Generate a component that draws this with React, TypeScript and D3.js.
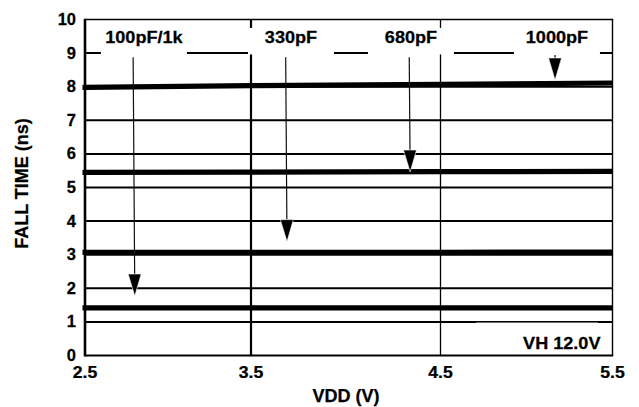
import * as React from 'react'
import * as d3 from 'd3'

const W = 639
const H = 407

// axis ticks
const vddTicks = [2.5, 3.5, 4.5, 5.5]
const fallTicks = [0, 1, 2, 3, 4, 5, 6, 7, 8, 9, 10]

// series (fall time in ns vs VDD)
const vdd = [2.5, 3.5, 4.5, 5.5]
const fall1000pF = [7.98, 8.03, 8.07, 8.11]
const fall680pF = [5.45, 5.46, 5.47, 5.48]
const fall330pF = [3.07, 3.07, 3.07, 3.08]
const fall100pF = [1.42, 1.42, 1.42, 1.42]
const seriesNames = ['1000pF', '680pF', '330pF', '100pF/1k']
const seriesValues = [fall1000pF, fall680pF, fall330pF, fall100pF]

// callouts, in data units (VDD, ns)
const labelVdd = [5.177, 4.344, 3.711, 2.855]
const arrowFromVdd = [5.166, 4.335, 3.683, 2.79]
const arrowToVdd = [5.166, 4.34, 3.69, 2.8]
const arrowFromNs = [8.94, 8.88, 8.88, 8.88]
const arrowToNs = [8.2, 5.46, 3.39, 1.77]

const conditionText = 'VH 12.0V'

const FONT = '"Liberation Sans", Arial, sans-serif'

// the original grid is not evenly spaced, so a piecewise scale
const x = d3
  .scaleLinear()
  .domain(vddTicks)
  .range([85, 251, 440.5, 612.5])
const y = d3.scaleLinear().domain([0, 10]).range([355.5, 19.5])

function Txt(props: {
  x: number
  y: number
  sx?: number
  size?: number
  anchor?: string
  rotate?: number
  children: React.ReactNode
}) {
  const { sx = 1, size = 16, anchor = 'middle', rotate = 0 } = props
  return (
    <text
      transform={`translate(${props.x},${props.y}) scale(${sx},1) rotate(${rotate})`}
      textAnchor={anchor}
      fontSize={size}
      fontWeight="bold"
      fontFamily={FONT}
      fill="#000"
      stroke="#000"
      strokeWidth={0.25}
    >
      {props.children}
    </text>
  )
}

function Arrow(props: { x1: number; y1: number; x2: number; y2: number }) {
  const { x1, y1, x2, y2 } = props
  const len = Math.hypot(x2 - x1, y2 - y1)
  const ux = (x2 - x1) / len
  const uy = (y2 - y1) / len
  const headL = Math.min(22, len)
  const headW = 6.5
  const bx = x2 - ux * headL
  const by = y2 - uy * headL
  const pts = [
    [x2, y2],
    [bx - uy * headW, by + ux * headW],
    [bx + uy * headW, by - ux * headW]
  ]
  return (
    <g>
      <line x1={x1} y1={y1} x2={bx} y2={by} stroke="#111" strokeWidth={1.2} />
      <polygon
        points={pts.map(p => p.join(',')).join(' ')}
        fill="#000"
        stroke="#fff"
        strokeWidth={0.6}
      />
    </g>
  )
}

export default function App() {
  const x0 = x(vddTicks[0])
  const x1 = x(vddTicks[vddTicks.length - 1])
  const line = d3
    .line<number>()
    .x((d, i) => x(vdd[i]))
    .y(d => y(d))

  return (
    <svg
      width={W}
      height={H}
      style={{ position: 'absolute', left: 0, top: 0, background: '#fff' }}
    >
      <rect width={W} height={H} fill="#fff" />

      {/* horizontal grid */}
      {fallTicks.slice(1, -1).map(t => (
        <line
          key={'h' + t}
          x1={x0}
          x2={x1}
          y1={y(t)}
          y2={y(t)}
          stroke="#000"
          strokeWidth={2}
        />
      ))}
      {/* vertical grid */}
      <line x1={x(3.5)} x2={x(3.5)} y1={y(10)} y2={y(0)} stroke="#000" strokeWidth={2.2} />
      <line x1={x(4.5)} x2={x(4.5)} y1={y(10)} y2={y(0)} stroke="#000" strokeWidth={1.3} />
      {/* frame */}
      <line x1={x0} x2={x1 + 0.7} y1={y(10)} y2={y(10)} stroke="#000" strokeWidth={1.6} />
      <line x1={x1} x2={x1} y1={y(10)} y2={y(0)} stroke="#000" strokeWidth={1.4} />
      <line x1={x0} x2={x1 + 0.7} y1={y(0)} y2={y(0)} stroke="#000" strokeWidth={2.2} />
      <line x1={x0} x2={x0} y1={y(10) - 0.8} y2={y(0) + 1} stroke="#000" strokeWidth={2.6} />

      {/* white boxes behind callout labels */}
      {labelVdd.map((v, i) => (
        <rect
          key={'b' + i}
          x={x(v) - 43}
          y={y(9.75)}
          width={86}
          height={y(8.96) - y(9.75)}
          fill="#fff"
        />
      ))}
      <rect x={476} y={y(0.98)} width={122} height={y(0.05) - y(0.98)} fill="#fff" />

      {/* series */}
      {seriesValues.map((vals, i) => (
        <path
          key={seriesNames[i]}
          d={line(vals) || ''}
          fill="none"
          stroke="#000"
          strokeWidth={5.2}
        />
      ))}
      {/* small stub left of axis like original */}
      {seriesValues.map((vals, i) => (
        <line
          key={'s' + i}
          x1={x0 - 2.5}
          x2={x0}
          y1={y(vals[0])}
          y2={y(vals[0])}
          stroke="#000"
          strokeWidth={5.2}
        />
      ))}

      {/* callouts */}
      {labelVdd.map((v, i) => (
        <Txt key={'l' + i} x={x(v)} y={43} sx={1.13}>
          {seriesNames[i]}
        </Txt>
      ))}
      {arrowFromVdd.map((v, i) => (
        <Arrow
          key={'a' + i}
          x1={x(v)}
          y1={y(arrowFromNs[i])}
          x2={x(arrowToVdd[i])}
          y2={y(arrowToNs[i])}
        />
      ))}
      <Txt x={x(5.205)} y={y(0.18)} sx={1.13}>
        {conditionText}
      </Txt>

      {/* tick labels */}
      {fallTicks.map(t => (
        <Txt key={'yt' + t} x={76} y={y(t) + 5.5} sx={1.03} anchor="end">
          {t}
        </Txt>
      ))}
      {vddTicks.map(t => (
        <Txt key={'xt' + t} x={x(t)} y={378} sx={1.1}>
          {t.toFixed(1)}
        </Txt>
      ))}

      {/* axis titles */}
      <Txt x={346} y={401.5} size={18}>
        VDD (V)
      </Txt>
      <Txt x={28} y={183.5} size={18} rotate={-90}>
        FALL TIME (ns)
      </Txt>
    </svg>
  )
}
